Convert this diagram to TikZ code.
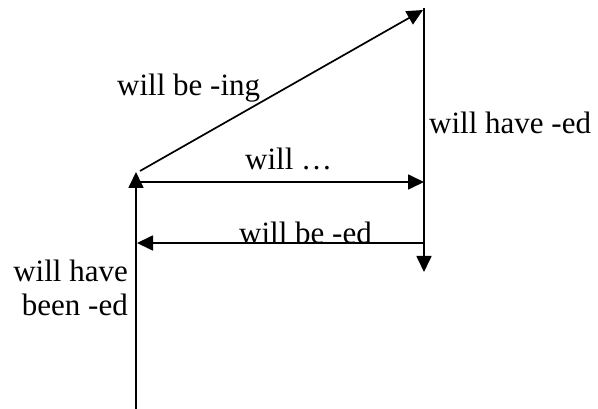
\documentclass[tikz,border=0pt]{standalone}
\usepackage{fontspec}
\setmainfont{Liberation Serif}
\usetikzlibrary{arrows.meta}
\begin{document}
\begin{tikzpicture}[x=1pt,y=-1pt,
  conn/.style={line width=1.7pt,-{Triangle[length=16pt,width=15pt]}},
  lbl/.style={inner sep=0pt,font=\fontsize{31}{34}\selectfont}]
\useasboundingbox (0,0) rectangle (598,409);
% coordinates
\coordinate (lb) at (136,409);
\coordinate (lt) at (136,172);
\coordinate (d0) at (140,171);
\coordinate (d1) at (423,10);
\coordinate (rt) at (424,8);
\coordinate (rb) at (424,272);
\coordinate (h1a) at (136,182);
\coordinate (h1b) at (424,182);
\coordinate (h2a) at (424,243);
\coordinate (h2b) at (137,243);
% connectors
\draw[conn] (lb) -- (lt);
\draw[conn] (d0) -- (d1);
\draw[conn] (rt) -- (rb);
\draw[conn] (h1a) -- (h1b);
\draw[conn] (h2a) -- (h2b);
% labels
\node[lbl,anchor=base west] (ting) at (117,96) {will be -ing};
\node[lbl,anchor=base west] (thave) at (429,134) {will have -ed};
\node[lbl,anchor=base west] (twill) at (245,170) {will …};
\node[lbl,anchor=base west] (tbe) at (239,244) {will be -ed};
\node[lbl,anchor=base east] (tb1) at (128,282) {will have};
\node[lbl,anchor=base east] (tb2) at (128,316) {been -ed};
\end{tikzpicture}
\end{document}
